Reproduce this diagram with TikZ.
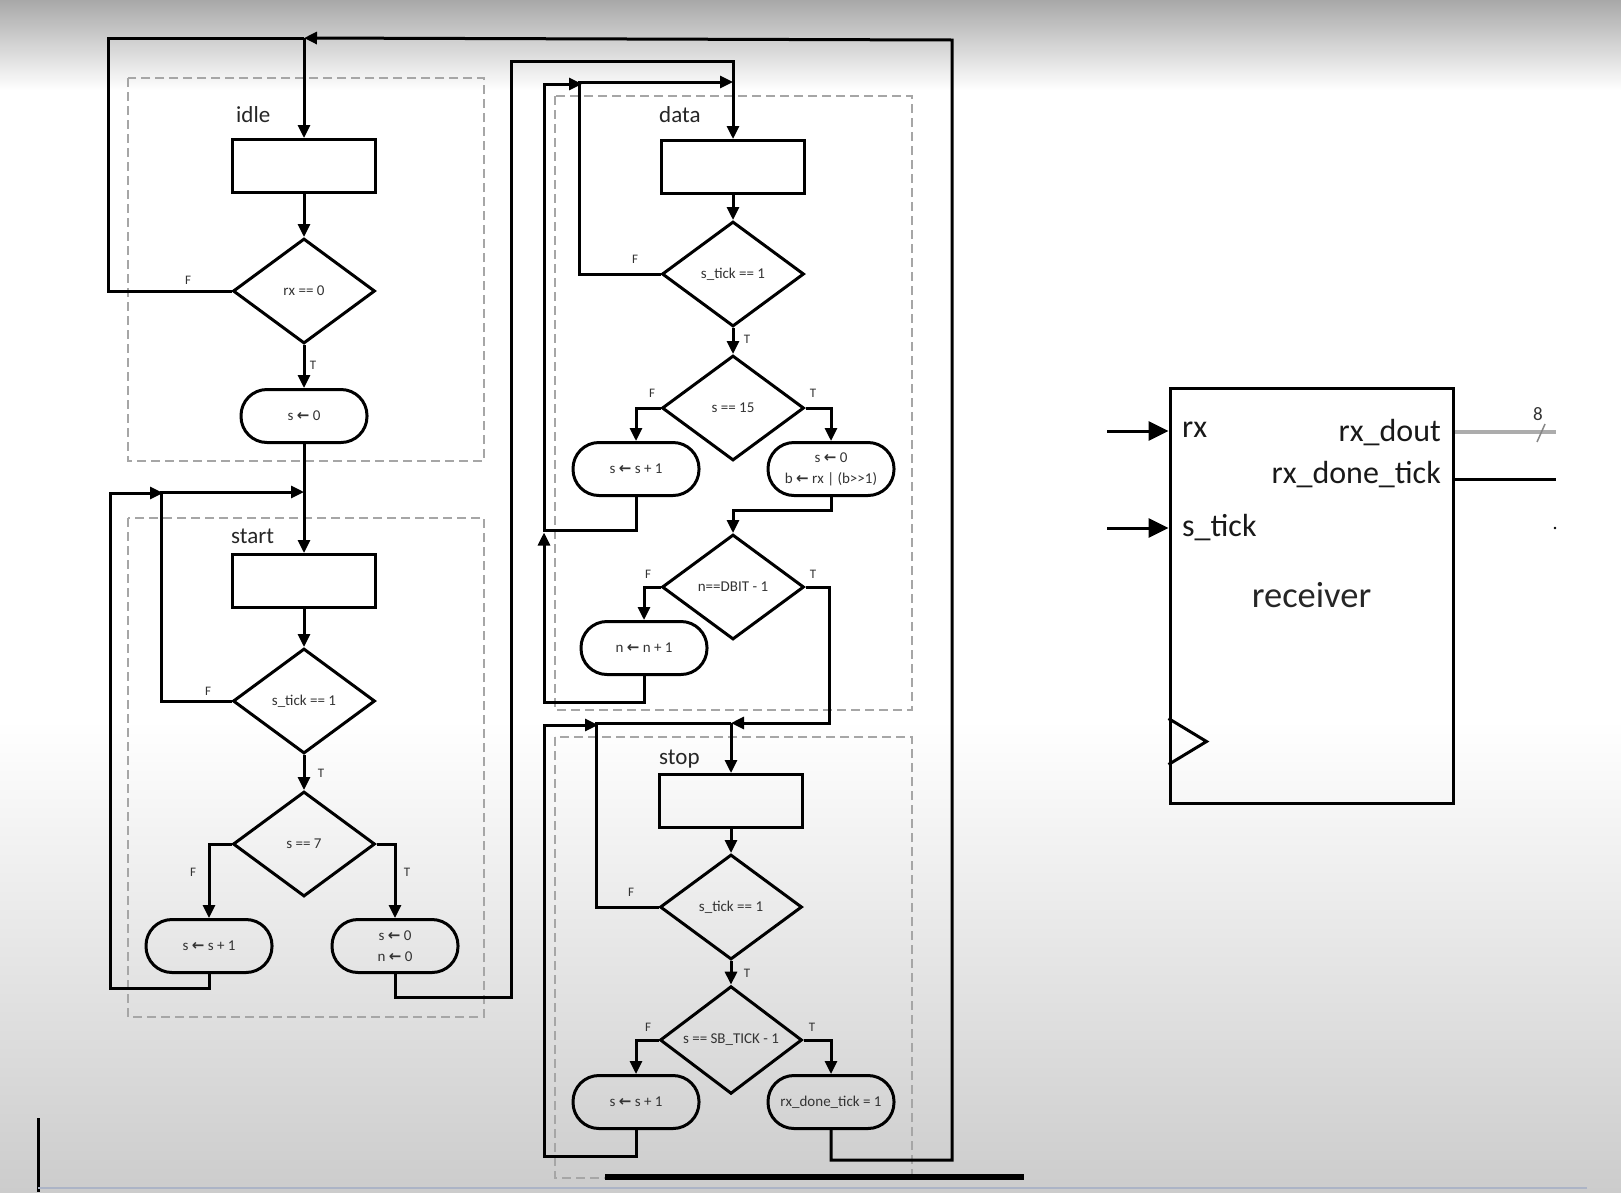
\documentclass[tikz,border=0pt]{standalone}
\usepackage{fontspec}
\setmainfont{Carlito}
\newfontfamily\arrowfont{DejaVu Sans}
\usetikzlibrary{arrows.meta,shapes.geometric}
\definecolor{rulegray}{RGB}{172,180,198}
\newcommand\getsarrow{{\arrowfont\bfseries\fontsize{15}{15}\selectfont ←}}
\tikzset{
  line/.style={line width=3pt},
  flow/.style={line, -{Triangle[length=13pt,width=12pt]}},
  portin/.style={line, -{Triangle[length=20pt,width=19pt]}},
  group/.style={draw=gray!70, line width=1.6pt, dash pattern=on 9pt off 5pt},
  blk/.style={draw, line, minimum width=143pt, minimum height=53pt, inner sep=0pt},
  dec/.style={diamond, draw, line, minimum width=142pt, minimum height=105pt, inner sep=0pt,
    text=black!80, font=\fontsize{15}{21}\selectfont},
  term/.style={draw, line, rounded corners=26pt, minimum width=126pt, minimum height=53pt,
    inner sep=0pt, align=center, text=black!80, font=\fontsize{15}{21}\selectfont},
  tf/.style={inner sep=0pt, text=black!80, font=\fontsize{13}{15}\selectfont},
  state/.style={anchor=base west, inner sep=0pt, text=black!85, font=\fontsize{23}{26}\selectfont},
  port/.style={inner sep=0pt, text=black!90, font=\fontsize{32}{35}\selectfont}
}
\begin{document}
\begin{tikzpicture}[x=1pt, y=-1pt]
\useasboundingbox (0,0) rectangle (1621,1192);
\shade[top color=black!34, bottom color=white] (0,0) rectangle (1621,90);
\shade[top color=white, bottom color=black!20] (0,720) rectangle (1621,1192);

\draw[group] (128,78) rectangle (484,461);
\draw[group] (128,518) rectangle (484,1017);
\draw[group] (555,96) rectangle (912,710);
\draw[group] (555,737) rectangle (912,1178);

\foreach \n/\x/\y/\t in {lIdle/236/122/idle, lStart/231/543/start, lData/659/122/data, lStop/659/764/stop}
  \node[state] (\n) at (\x,\y) {\t};

\node[blk] (idleR) at (304,166) {};
\node[dec] (idleD) at (304,291) {rx == 0};
\node[term] (idleT) at (304,416) {s \getsarrow\ 0};

\node[blk] (startR) at (304,581) {};
\node[dec] (startD1) at (304,701) {s\_tick == 1};
\node[dec] (startD2) at (304,844) {s == 7};
\node[term] (startT1) at (209,946) {s \getsarrow\ s + 1};
\node[term] (startT2) at (395,946) {s \getsarrow\ 0\\n \getsarrow\ 0};

\node[blk] (dataR) at (733,167) {};
\node[dec] (dataD1) at (733,274) {s\_tick == 1};
\node[dec] (dataD2) at (733,408) {s == 15};
\node[term] (dataT1) at (636,469) {s \getsarrow\ s + 1};
\node[term] (dataT2) at (831,469) {s \getsarrow\ 0\\b \getsarrow\ rx | (b>{}>1)};
\node[dec] (dataD3) at (733,587) {n==DBIT - 1};
\node[term] (dataT3) at (644,648) {n \getsarrow\ n + 1};

\node[blk] (stopR) at (731,801) {};
\node[dec] (stopD1) at (731,907) {s\_tick == 1};
\node[dec] (stopD2) at (731,1040) {s == SB\_TICK - 1};
\node[term] (stopT1) at (636,1102) {s \getsarrow\ s + 1};
\node[term] (stopT2) at (831,1102) {rx\_done\_tick = 1};

\coordinate (idleIn) at (304,38);
\coordinate (startIn) at (304,492);
\coordinate (dataIn) at (733,82);
\coordinate (stopIn) at (731,723);

\foreach \n/\x/\y/\t in {
  fIdle/188/280/F, tIdle/313/365/T,
  fStart1/208/691/F, tStart1/321/773/T,
  fStart2/193/872/F, tStart2/407/872/T,
  fData1/635/259/F, tData1/747/339/T,
  fData2/652/393/F, tData2/813/393/T,
  fData3/648/574/F, tData3/813/574/T,
  fStop1/631/892/F, tStop1/747/973/T,
  fStop2/648/1027/F, tStop2/812/1027/T}
  \node[tf] (\n) at (\x,\y) {\t};

\draw[flow] (idleIn) -- (idleR.north);
\draw[flow] (idleR) -- (idleD);
\draw[line] (idleD.west) -| ++(-123,-253) -- (idleIn);
\draw[flow] (idleD) -- (idleT);
\draw[flow] (idleT) -- (startR);

\draw[flow] (startR) -- (startD1);
\draw[flow] (startD1.west) -| ++(-70,-209) -- (startIn);
\draw[flow] (startD1) -- (startD2);
\draw[flow] (startD2.west) -| (startT1.north);
\draw[flow] (startD2.east) -| (startT2.north);
\draw[flow] (startT1.south) |- ++(-99,14) -- ++(0,-495) -- ++(53,0);
\draw[flow] (startT2.south) |- ++(116,23) -- ++(0,-936) -| (dataR.north);

\draw[flow] (dataR) -- (dataD1);
\draw[flow] (dataD1.west) -| ++(-81,-192) -- (dataIn);
\draw[flow] (dataD1) -- (dataD2);
\draw[flow] (dataD2.west) -| (dataT1.north);
\draw[flow] (dataD2.east) -| (dataT2.north);
\draw[flow] (dataT1.south) |- ++(-92,33) -- ++(0,-446) -- ++(38,0);
\draw[flow] (dataT2.south) |- ++(-98,13) -- (dataD3);
\draw[flow] (dataD3.west) -| (dataT3.north);
\draw[flow] (dataT3.south) |- ++(-100,26.5) -- ++(0,-170);
\draw[flow] (dataD3.east) -| ++(24,136) -- (stopIn);

\draw[flow] (stopIn) -- (stopR);
\draw[flow] (stopR) -- (stopD1);
\draw[line] (stopD1.west) -| ++(-62,-184) -- (stopIn);
\draw[flow] (stopD1) -- (stopD2);
\draw[flow] (stopD2.west) -| (stopT1.north);
\draw[flow] (stopD2.east) -| (stopT2.north);
\draw[flow] (stopT1.south) |- ++(-92,26) -- ++(0,-431) -- ++(54,0);
\draw[flow] (stopT2.south) |- ++(121,30) -- ++(0,-1120) -- (idleIn);

\node[draw, line, minimum width=283pt, minimum height=415pt, text=black!85,
  font=\fontsize{36.5}{40}\selectfont] (rcv) at (1311.5,595.5) {receiver};
\node[port, anchor=base west] (pRx) at (1182,437) {rx};
\node[port, anchor=base west] (pTick) at (1182,536) {s\_tick};
\node[port, anchor=base east] (pDout) at (1441,441) {rx\_dout};
\node[port, anchor=base east] (pDone) at (1441,483) {rx\_done\_tick};
\coordinate (inRx) at (1107,431);
\coordinate (inTick) at (1107,528);
\coordinate (outDout) at (1556,432);
\coordinate (outDone) at (1556,479);
\draw[portin] (inRx) -- (inRx -| rcv.west);
\draw[portin] (inTick) -- (inTick -| rcv.west);
\draw[line width=3.5pt, gray!65] (outDout -| rcv.east) -- (outDout);
\draw[line width=1.5pt, gray!95] (1537,442) -- (1545,424);
\node[inner sep=0pt, text=black!80, font=\fontsize{19}{21}\selectfont] (busW) at (1538,414) {8};
\draw[line] (outDone -| rcv.east) -- (outDone);
\fill (1555,528) circle (1.3pt);
\draw[line] ([yshift=86pt]rcv.south west) -- ([xshift=38pt,yshift=63pt]rcv.south west) -- ([yshift=40pt]rcv.south west);

\draw[line width=3pt] (38,1118) -- (38,1192);
\draw[line width=5.5pt] (605,1177) -- (1024,1177);
\draw[line width=1.5pt, rulegray] (38,1188) -- (1587,1188);
\end{tikzpicture}
\end{document}
